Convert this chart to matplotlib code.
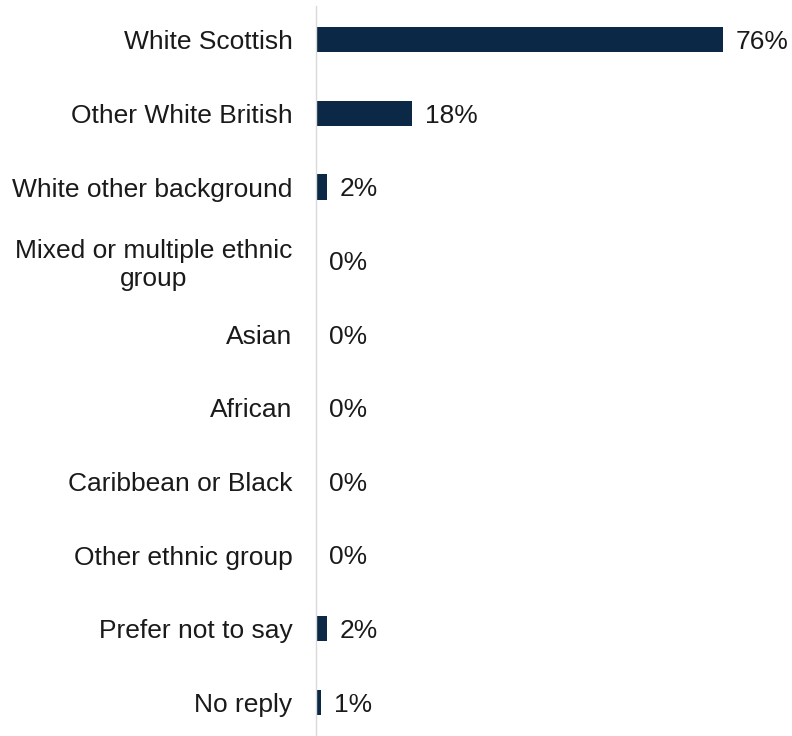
import matplotlib
matplotlib.use('Agg')
import matplotlib.pyplot as plt

plt.rcParams['font.family'] = ['Liberation Sans', 'DejaVu Sans']

# ethnic group breakdown, share of respondents (%)
groups = [
    'White Scottish',
    'Other White British',
    'White other background',
    'Mixed or multiple ethnic\ngroup',
    'Asian',
    'African',
    'Caribbean or Black',
    'Other ethnic group',
    'Prefer not to say',
    'No reply',
]
shares = [76, 18, 2, 0, 0, 0, 0, 0, 2, 1]

bar_color = '#0b2846'
text_color = '#1a1a1a'

fig = plt.figure(figsize=(7.92, 7.36), dpi=100)
ax = fig.add_axes([316 / 792, -3 / 736, 1 - 316 / 792, 1.0])

pos = list(range(len(groups)))
ax.barh(pos, shares, height=0.34, color=bar_color)

ax.set_xlim(0, 88.9)
ax.set_ylim(9.5, -0.5)

# value labels just past the end of each bar
for p, v in zip(pos, shares):
    ax.annotate(f'{v}%', xy=(v, p), xytext=(9, 0), textcoords='offset points',
                ha='left', va='center_baseline', fontsize=19, color=text_color)

ax.set_yticks(pos)
ax.set_yticklabels(groups, fontsize=19, color=text_color, multialignment='center')
ax.tick_params(axis='y', length=0, pad=17)
ax.set_xticks([])

for side in ['top', 'right', 'bottom']:
    ax.spines[side].set_visible(False)
ax.spines['left'].set_color('#d9d9d9')
ax.spines['left'].set_linewidth(1.0)
ax.spines['left'].set_bounds(9.6, -0.46)

fig.savefig('out.png', dpi=100)
